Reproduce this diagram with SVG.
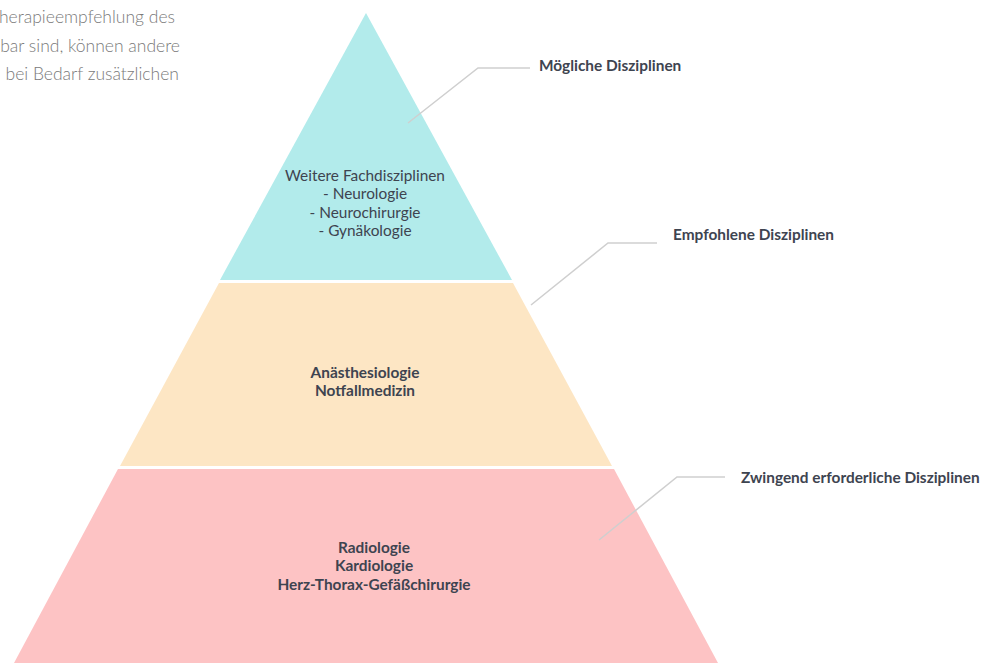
<svg xmlns="http://www.w3.org/2000/svg" width="983" height="663" viewBox="0 0 983 663">
<style>
text{font-family:Lato,"Noto Sans","Liberation Sans",sans-serif;fill:#3e4450;font-size:15.4px}
.c{text-anchor:middle}
.b{font-weight:bold}
.intro{fill:#7a7a7a;font-size:17.5px;font-weight:300;text-anchor:end}
.lead{fill:none;stroke:#cfcfcf;stroke-width:1.5}
</style>
<rect width="983" height="663" fill="#fff"/>
<g id="intro">
<text class="intro" x="175" y="23">herapieempfehlung des</text>
<text class="intro" x="180" y="52">bar sind, können andere</text>
<text class="intro" x="179" y="80">bei Bedarf zusätzlichen</text>
</g>
<g id="tier-top">
<polygon points="366,13 512,280 220,280" fill="#b2ebeb"/>
<text class="c" x="365" y="181">Weitere Fachdisziplinen</text>
<text class="c" x="365" y="199">- Neurologie</text>
<text class="c" x="365" y="218">- Neurochirurgie</text>
<text class="c" x="365" y="236">- Gynäkologie</text>
</g>
<g id="tier-middle">
<polygon points="219,283 513,283 612,466 120,466" fill="#fde6c4"/>
<text class="c b" x="365" y="378">Anästhesiologie</text>
<text class="c b" x="365" y="396">Notfallmedizin</text>
</g>
<g id="tier-bottom">
<polygon points="118,469 614,469 718,663 14,663" fill="#fdc3c4"/>
<text class="c b" x="374" y="553">Radiologie</text>
<text class="c b" x="374" y="571">Kardiologie</text>
<text class="c b" x="374" y="590">Herz-Thorax-Gefäßchirurgie</text>
</g>
<g id="connectors">
<polyline class="lead" points="408,123 478,68 530,68"/>
<polyline class="lead" points="531,305 608,243 657,243"/>
<polyline class="lead" points="599,540 677,477 725,477"/>
</g>
<g id="label-1"><text class="b" x="539" y="71">Mögliche Disziplinen</text></g>
<g id="label-2"><text class="b" x="673" y="240">Empfohlene Disziplinen</text></g>
<g id="label-3"><text class="b" x="741" y="483">Zwingend erforderliche Disziplinen</text></g>
</svg>
